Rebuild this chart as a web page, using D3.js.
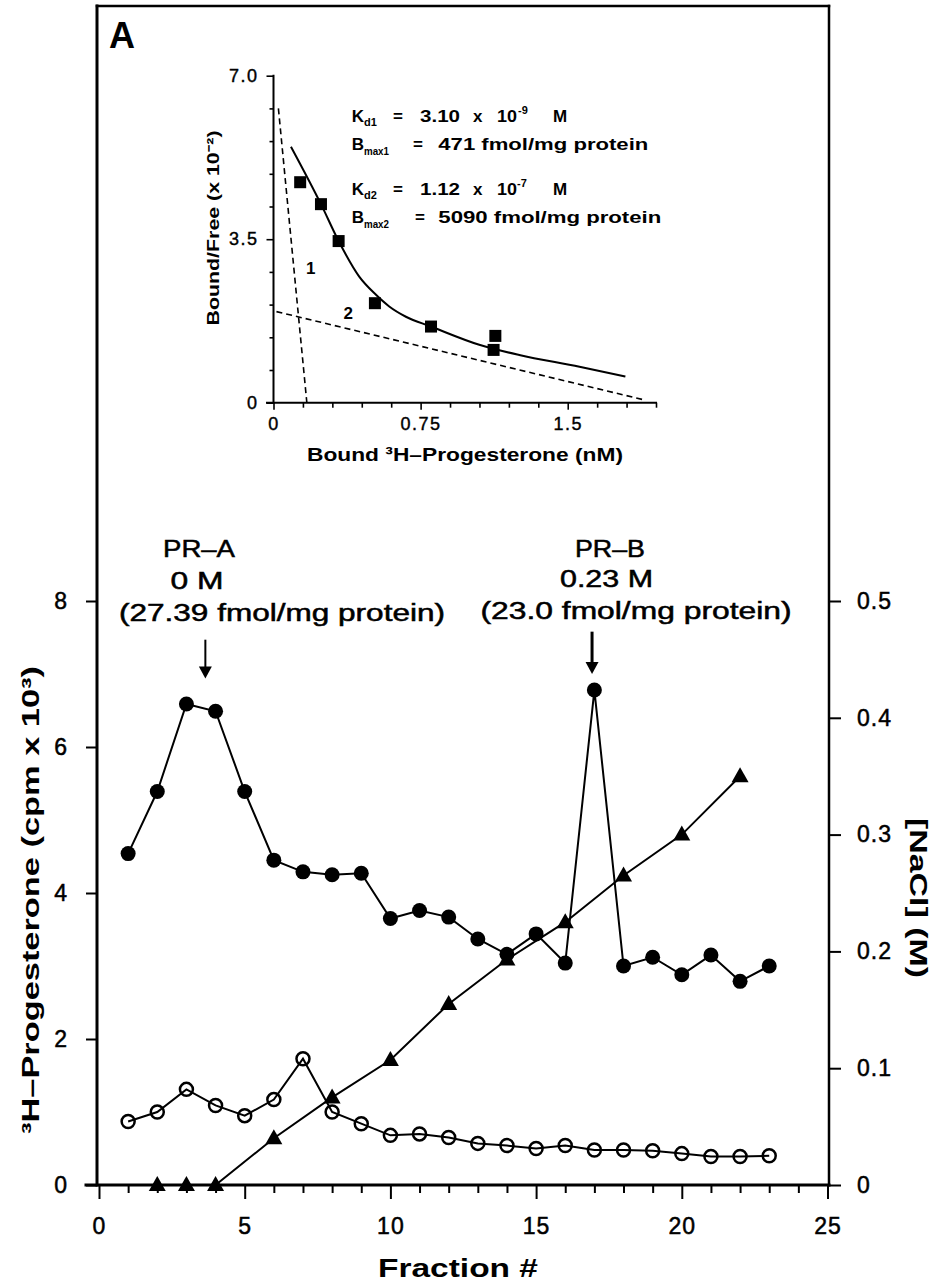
<!DOCTYPE html>
<html><head><meta charset="utf-8">
<script src="https://cdn.jsdelivr.net/npm/d3@7/dist/d3.min.js"></script>
<style>body{margin:0;background:#fff} svg{display:block}</style>
</head><body>
<script>
// ---------- main chart data ----------
const fractions = [1,2,3,4,5,6,7,8,9,10,11,12,13,14,15,16,17,18,19,20,21,22,23];
const filledCpm = [4.54,5.39,6.59,6.49,5.39,4.45,4.29,4.25,4.27,3.65,3.76,3.67,3.37,3.16,3.44,3.04,6.78,3.00,3.12,2.88,3.15,2.79,3.00];
const openCpm   = [0.87,1.00,1.31,1.09,0.95,1.17,1.73,1.00,0.84,0.68,0.70,0.65,0.57,0.54,0.50,0.54,0.48,0.48,0.47,0.43,0.39,0.39,0.40];
const saltFractions = [2,3,4,6,8,10,12,14,16,18,20,22];
const saltM = [0,0,0,0.040,0.075,0.107,0.155,0.193,0.225,0.265,0.300,0.350];
const xTicks = [0,5,10,15,20,25];
const xTickLabels = ['0','5','10','15','20','25'];
const xMinorTicks = [1,2,3,4,6,7,8,9,11,12,13,14,16,17,18,19,21,22,23,24];
const leftTicks = [0,2,4,6,8];
const leftTickLabels = ['0','2','4','6','8'];
const rightTicks = [0,0.1,0.2,0.3,0.4,0.5];
const rightTickLabels = ['0','0.1','0.2','0.3','0.4','0.5'];
const arrowFractions = [3.65, 16.92];
const arrowFrom = [7.47, 7.58];
const arrowTo = [6.94, 7.00];

// ---------- inset (Scatchard) data ----------
const scatBound = [0.136,0.242,0.332,0.517,0.803,1.131,1.122];
const scatRatio = [4.72,4.25,3.46,2.13,1.63,1.43,1.13];
const fitBound = [0.089,0.242,0.332,0.437,0.520,0.590,0.675,0.803,1.049,1.253,1.560,1.794];
const fitRatio = [5.48,4.25,3.46,2.70,2.32,2.06,1.84,1.63,1.24,1.02,0.77,0.56];
const site1Bound = [0.025,0.170];
const site1Ratio = [6.30,0.00];
const site2Bound = [0.015,1.890];
const site2Ratio = [1.95,0.06];
const insetXTicks = [0,0.75,1.5];
const insetXTickLabels = ['0','0.75','1.5'];
const insetXMinor = [0.15,0.3,0.45,0.6,0.9,1.05,1.2,1.35,1.65,1.8,1.95];
const insetYTicks = [0,3.5,7.0];
const insetYTickLabels = ['0','3.5','7.0'];
const insetYMinor = [0.7,1.4,2.1,2.8,4.2,4.9,5.6,6.3];

const FONT = '"Liberation Sans", Arial, Helvetica, sans-serif';
const W = 933, H = 1284;
const svg = d3.select('body').append('svg').attr('width', W).attr('height', H)
  .style('font-family', FONT);

function txt(x, y, s, o = {}) {
  const t = svg.append('text').attr('x', x).attr('y', y).text(s)
    .attr('font-size', o.size || 16)
    .attr('font-weight', o.weight || 'normal')
    .attr('text-anchor', o.anchor || 'start')
    .attr('fill', '#000');
  if (o.heavy) t.attr('stroke', '#000').attr('stroke-width', o.heavy);
  if (o.len) t.attr('textLength', o.len).attr('lengthAdjust', 'spacingAndGlyphs');
  if (o.rotate) t.attr('transform', `rotate(${o.rotate},${x},${y})`);
  return t;
}
function line(x1, y1, x2, y2, w) {
  return svg.append('line').attr('x1', x1).attr('y1', y1).attr('x2', x2).attr('y2', y2)
    .attr('stroke', '#000').attr('stroke-width', w).attr('stroke-linecap', 'square');
}

// ---------- main scales ----------
const x = d3.scaleLinear().domain([0, 25]).range([99, 827.5]);
const yL = d3.scaleLinear().domain([0, 8]).range([1185, 601]);
const yR = d3.scaleLinear().domain([0, 0.5]).range([1185, 601]);

// frame
line(97, 6, 97, 1185, 3);
line(97, 6, 829, 6, 2.5);
line(829, 6, 829, 1185, 2.5);
line(86, 1185, 829, 1185, 3);

function styleAxis(g, size) {
  g.select('.domain').remove();
  g.selectAll('line').attr('stroke', '#000').attr('stroke-width', 2);
  g.selectAll('text').attr('font-size', size).attr('font-family', FONT).attr('fill', '#000')
    .attr('stroke', '#000').attr('stroke-width', 0.5).attr('letter-spacing', 1);
}
// x axis
const gx = svg.append('g').attr('transform', 'translate(0,1185)')
  .call(d3.axisBottom(x).tickValues(xTicks).tickSize(14).tickPadding(19)
    .tickFormat((d, i) => xTickLabels[i]));
styleAxis(gx, 23);
const gxm = svg.append('g').attr('transform', 'translate(0,1185)')
  .call(d3.axisBottom(x).tickValues(xMinorTicks).tickSize(8).tickFormat(''));
styleAxis(gxm, 0);
// left axis
const gl = svg.append('g').attr('transform', 'translate(97,0)')
  .call(d3.axisLeft(yL).tickValues(leftTicks).tickSize(11).tickPadding(18)
    .tickFormat((d, i) => leftTickLabels[i]));
styleAxis(gl, 23);
// right axis
const gr = svg.append('g').attr('transform', 'translate(829,0)')
  .call(d3.axisRight(yR).tickValues(rightTicks).tickSize(12).tickPadding(16)
    .tickFormat((d, i) => rightTickLabels[i]));
styleAxis(gr, 23);

// axis titles
txt(458, 1277, 'Fraction #', {size: 25, weight: 'bold', anchor: 'middle', len: 160});
txt(38.5, 900, '\u00B3H\u2013Progesterone (cpm x 10\u00B3)', {size: 24, weight: 'bold', anchor: 'middle', len: 468, rotate: -90});
txt(910, 898, '[NaCl] (M)', {size: 23, weight: 'bold', anchor: 'middle', len: 160, rotate: 90});

// series lines
const lineOpen = d3.line().x((d, i) => x(fractions[i])).y(d => yL(d));
svg.append('path').datum(openCpm).attr('d', lineOpen)
  .attr('fill', 'none').attr('stroke', '#000').attr('stroke-width', 2);
const lineSalt = d3.line().x((d, i) => x(saltFractions[i])).y(d => yR(d));
svg.append('path').datum(saltM).attr('d', lineSalt)
  .attr('fill', 'none').attr('stroke', '#000').attr('stroke-width', 2);
svg.append('path').datum(filledCpm).attr('d', lineOpen)
  .attr('fill', 'none').attr('stroke', '#000').attr('stroke-width', 2);

// markers
svg.append('g').selectAll('circle').data(openCpm).join('circle')
  .attr('cx', (d, i) => x(fractions[i])).attr('cy', d => yL(d)).attr('r', 6.5)
  .attr('fill', 'none').attr('stroke', '#000').attr('stroke-width', 2.5);
svg.append('g').selectAll('path').data(saltM).join('path')
  .attr('transform', (d, i) => `translate(${x(saltFractions[i])},${yR(d)})`)
  .attr('d', 'M0,-9 L8.5,6 L-8.5,6 Z').attr('fill', '#000');
svg.append('g').selectAll('circle').data(filledCpm).join('circle')
  .attr('cx', (d, i) => x(fractions[i])).attr('cy', d => yL(d)).attr('r', 7.5)
  .attr('fill', '#000');

// annotations
const ann = {size: 23, anchor: 'middle', heavy: 0.5};
txt(199, 557, 'PR\u2013A', {...ann, len: 72});
txt(197, 589, '0 M', {...ann, len: 53});
txt(282, 621, '(27.39 fmol/mg protein)', {...ann, len: 326});
txt(610, 557, 'PR\u2013B', {...ann, len: 70});
txt(606.5, 587, '0.23 M', {...ann, len: 93});
txt(636, 619, '(23.0 fmol/mg protein)', {...ann, len: 311});
const arrowW = [2, 3];
arrowFractions.forEach((f, i) => {
  const ax = x(f), y0 = yL(arrowFrom[i]), y1 = yL(arrowTo[i]);
  line(ax, y0, ax, y1 - 10, arrowW[i]).attr('stroke-linecap', 'butt');
  svg.append('path').attr('d', `M${ax - 6.5},${y1 - 12} L${ax + 6.5},${y1 - 12} L${ax},${y1} Z`).attr('fill', '#000');
});

// panel letter
txt(109, 48, 'A', {size: 36, weight: 'bold'});

// ---------- inset ----------
const ix = d3.scaleLinear().domain([0, 1.95]).range([273.5, 656]);
const iy = d3.scaleLinear().domain([0, 7]).range([402.7, 75.7]);
line(273.5, 75.7, 273.5, 402.7, 2);
line(267, 402.7, 656, 402.7, 2);
function styleInset(g) {
  g.select('.domain').remove();
  g.selectAll('line').attr('stroke', '#000').attr('stroke-width', 1.6);
  g.selectAll('text').attr('font-size', 18).attr('font-family', FONT).attr('fill', '#000')
    .attr('stroke', '#000').attr('stroke-width', 0.4).attr('letter-spacing', 1.5);
}
const igx = svg.append('g').attr('transform', 'translate(0,402.7)')
  .call(d3.axisBottom(ix).tickValues(insetXTicks).tickSize(7).tickPadding(8)
    .tickFormat((d, i) => insetXTickLabels[i]));
styleInset(igx);
const igxm = svg.append('g').attr('transform', 'translate(0,402.7)')
  .call(d3.axisBottom(ix).tickValues(insetXMinor).tickSize(5).tickFormat(''));
styleInset(igxm);
const igy = svg.append('g').attr('transform', 'translate(273.5,0)')
  .call(d3.axisLeft(iy).tickValues(insetYTicks).tickSize(7).tickPadding(8)
    .tickFormat((d, i) => insetYTickLabels[i]));
styleInset(igy);
const igym = svg.append('g').attr('transform', 'translate(273.5,0)')
  .call(d3.axisLeft(iy).tickValues(insetYMinor).tickSize(4).tickFormat(''));
styleInset(igym);

// dashed component lines
[[site1Bound, site1Ratio], [site2Bound, site2Ratio]].forEach(([bx, by]) => {
  svg.append('path').datum(bx.map((b, i) => [b, by[i]]))
    .attr('d', d3.line().x(d => ix(d[0])).y(d => iy(d[1])))
    .attr('fill', 'none').attr('stroke', '#000').attr('stroke-width', 1.6)
    .attr('stroke-dasharray', '6,4');
});
// fitted curve
svg.append('path').datum(fitBound.map((b, i) => [b, fitRatio[i]]))
  .attr('d', d3.line().x(d => ix(d[0])).y(d => iy(d[1])).curve(d3.curveMonotoneX))
  .attr('fill', 'none').attr('stroke', '#000').attr('stroke-width', 2);
// squares
svg.append('g').selectAll('rect').data(scatBound).join('rect')
  .attr('x', d => ix(d) - 6).attr('y', (d, i) => iy(scatRatio[i]) - 6)
  .attr('width', 12).attr('height', 12).attr('fill', '#000');

txt(310.7, 274, '1', {size: 17, weight: 'bold', anchor: 'middle'});
txt(348.3, 319, '2', {size: 17, weight: 'bold', anchor: 'middle'});

// inset titles
txt(465, 461, 'Bound \u00B3H\u2013Progesterone (nM)', {size: 19, weight: 'bold', anchor: 'middle', len: 316});
txt(219, 228, 'Bound/Free (x 10\u207B\u00B2)', {size: 17, weight: 'bold', anchor: 'middle', len: 195, rotate: -90});

// constants text
const B = {size: 17, weight: 'bold'};
const S = {size: 11, weight: 'bold'};
// line 1
txt(351.7, 122, 'K', B); txt(364, 126, 'd1', S);
txt(393, 122, '=', B); txt(420, 122, '3.10', {...B, len: 40});
txt(473, 122, 'x', B); txt(497, 122, '10', {...B, len: 20}); txt(518, 114, '-9', S);
txt(553, 122, 'M', B);
// line 2
txt(351.7, 150, 'B', B); txt(364, 155, 'max1', {...S, len: 25});
txt(413, 150, '=', B); txt(438.3, 150, '471 fmol/mg protein', {...B, len: 210});
// line 3
txt(351.7, 195, 'K', B); txt(364, 199, 'd2', S);
txt(393, 195, '=', B); txt(420, 195, '1.12', {...B, len: 40});
txt(473, 195, 'x', B); txt(497, 195, '10', {...B, len: 20}); txt(517, 187, '-7', S);
txt(553, 195, 'M', B);
// line 4
txt(351.7, 223, 'B', B); txt(364, 228, 'max2', {...S, len: 25});
txt(415, 223, '=', B); txt(438.3, 223, '5090 fmol/mg protein', {...B, len: 223});
</script>
</body></html>
